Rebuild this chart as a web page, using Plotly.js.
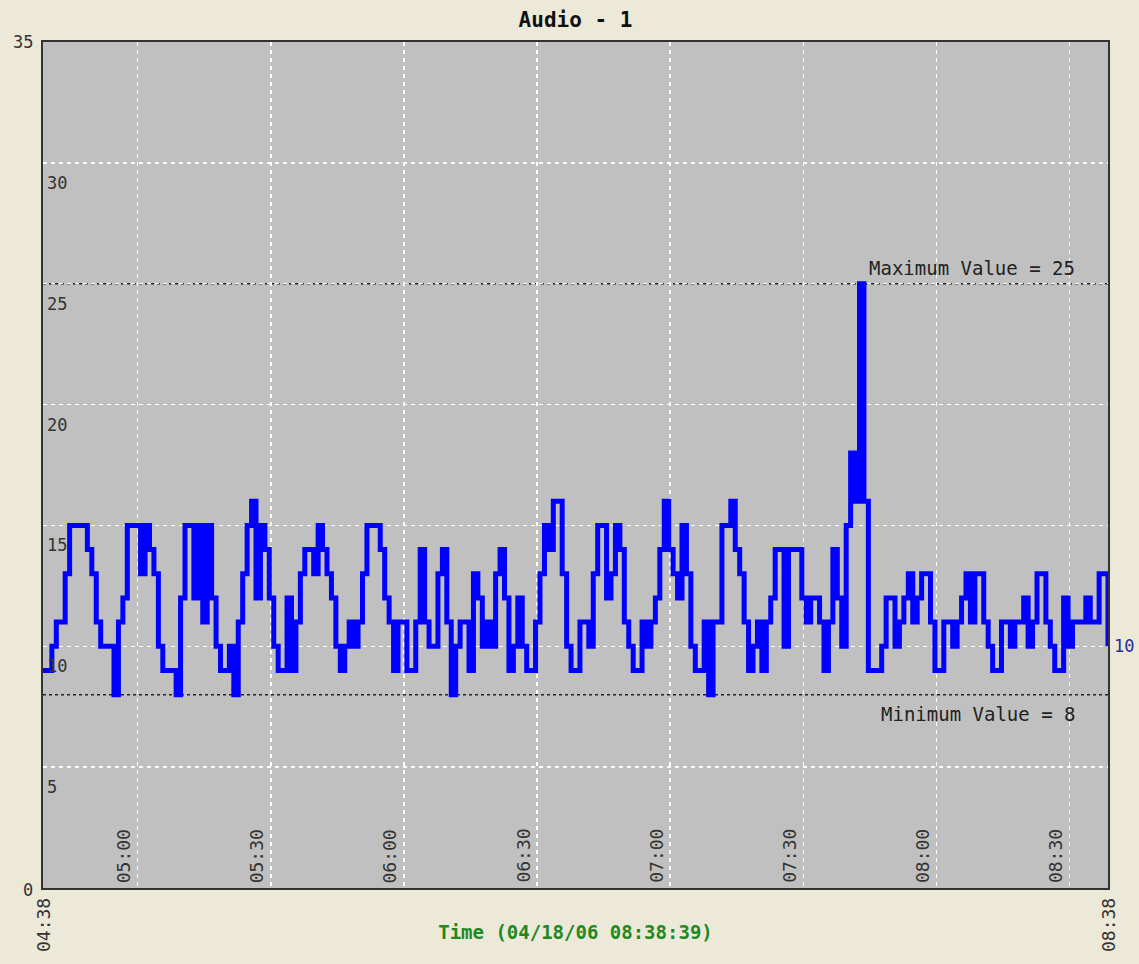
<!DOCTYPE html>
<html>
<head>
<meta charset="utf-8">
<script src="https://cdn.plot.ly/plotly-3.0.1.min.js"></script>
<style>html,body{margin:0;padding:0;background:#ECE9D8;}</style>
</head>
<body>
<div id="chart" style="width:1139px;height:964px;"></div>
<script>
// ---- data (one sample per minute, starting 04/18/06 04:38:39) ----
const chartTitle = 'Audio - 1';
const axisTitle = 'Time (04/18/06 08:38:39)';
const sampleDate = '2006-04-18';
const startClock = '04:38:39';
const sampleStepSeconds = 60;

const valuesHour1 = [9,9,10,11,11,13,15,15,15,15, 14,13,11,10,10,10,8,11,12,15, 15,15,13,15,14,13,10,9,9,9,
  8,12,15,15,12,15,11,15,12,10, 9,9,10,8,11,13,15,16,12,15, 14,12,10,9,9,12,9,11,13,14];
const valuesHour2 = [14,13,15,14,13,12,10,9,10,11, 10,11,13,15,15,15,14,12,11,9, 11,11,9,9,11,14,11,10,10,13,
  14,11,8,10,11,11,9,13,12,10, 11,10,13,14,12,9,10,12,10,9, 9,11,13,15,14,16,16,13,10,9];
const valuesHour3 = [9,11,11,10,13,15,15,12,13,15, 14,11,10,9,9,11,10,11,12,14, 16,14,13,12,15,13,10,9,9,11,
  8,11,11,15,15,16,14,13,11,9, 10,11,9,11,12,14,14,10,14,14, 14,12,11,12,12,11,9,11,14,12];
const valuesHour4 = [10,15,18,16,25,16,9,9,9,10, 12,12,10,11,12,13,11,12,13,13, 11,9,9,11,11,10,11,12,13,11,
  13,13,11,10,9,9,11,11,10,11, 11,12,10,11,13,13,11,10,9,9, 12,10,11,11,11,12,11,11,13,13, 10];

const xTickClocks = ['05:00','05:30','06:00','06:30','07:00','07:30','08:00','08:30'];
const yTickValues = [0,5,10,15,20,25,30,35];
const endLabels = ['04:38','08:38'];

// ---- build ----
const values = valuesHour1.concat(valuesHour2, valuesHour3, valuesHour4);
function pad(n){return (n<10?'0':'')+n;}
function clockToSec(c){const p=c.split(':').map(Number);return p[0]*3600+p[1]*60+(p[2]||0);}
function stamp(sec){const h=Math.floor(sec/3600),m=Math.floor((sec%3600)/60),s=sec%60;return sampleDate+' '+pad(h)+':'+pad(m)+':'+pad(s);}
const startSec = clockToSec(startClock);
const times = values.map((v,i)=>stamp(startSec + i*sampleStepSeconds));
const tickTimes = xTickClocks.map(c=>stamp(clockToSec(c)));
const maxVal = Math.max(...values), minVal = Math.min(...values);
const lastVal = values[values.length-1];
const t0 = times[0], tEnd = times[times.length-1];

const FONT = 'DejaVu Sans Mono';
const annotations = [];
// y labels inside the plot (below gridline)
yTickValues.forEach(v=>{
  if (v===0 || v===yTickValues[yTickValues.length-1]) {
    annotations.push({xref:'paper',yref:'y',x:0,y:v,text:String(v),showarrow:false,
      xanchor:'right',yanchor:'middle',xshift:-8,yshift:(v===0?-2:0),font:{family:FONT,size:17,color:'#333'}});
  } else {
    annotations.push({xref:'paper',yref:'y',x:0,y:v,text:String(v),showarrow:false,
      xanchor:'left',yanchor:'top',xshift:2,yshift:-8,font:{family:FONT,size:17,color:'#333'}});
  }
});
// x tick labels inside plot, rotated
xTickClocks.forEach((c,i)=>{
  annotations.push({xref:'x',yref:'y',x:tickTimes[i],y:0,text:c,showarrow:false,textangle:-90,
    xanchor:'right',yanchor:'bottom',xshift:-2,yshift:3,font:{family:FONT,size:18,color:'#333'}});
});
// end labels below axis
[t0,tEnd].forEach((t,i)=>{
  annotations.push({xref:'x',yref:'y',x:t,y:0,text:endLabels[i],showarrow:false,textangle:-90,
    xanchor:'center',yanchor:'top',yshift:-8,font:{family:FONT,size:18,color:'#333'}});
});
// max/min labels
annotations.push({xref:'paper',yref:'y',x:0.971,y:maxVal,text:'Maximum Value = '+maxVal,showarrow:false,
  xanchor:'right',yanchor:'bottom',yshift:3,font:{family:FONT,size:19,color:'#222'}});
annotations.push({xref:'paper',yref:'y',x:0.971,y:minVal,text:'Minimum Value = '+minVal,showarrow:false,
  xanchor:'right',yanchor:'top',yshift:-6,font:{family:FONT,size:19,color:'#222'}});
// current value at the right
annotations.push({xref:'x',yref:'y',x:tEnd,y:lastVal,text:String(lastVal),showarrow:false,
  xanchor:'left',yanchor:'middle',xshift:4,font:{family:FONT,size:17,color:'#2a2a99'}});

const shapes = [maxVal,minVal].map(v=>({type:'line',xref:'paper',yref:'y',x0:0,x1:1,y0:v,y1:v,
  line:{color:'#222',width:1.5,dash:'dot'},layer:'below'}));

const trace = {x:times,y:values,type:'scatter',mode:'lines',line:{color:'#0000ff',width:5,shape:'hv'},hoverinfo:'x+y'};

const layout = {
  width:1139,height:964,
  paper_bgcolor:'#ECE9D8',plot_bgcolor:'#C0C0C0',
  margin:{l:43,r:31,t:42,b:76,pad:0},
  showlegend:false,
  title:{text:'<b>'+chartTitle+'</b>',font:{family:FONT,size:21,color:'#111'},x:0.5,xref:'paper',y:1-20/964,yanchor:'middle'},
  xaxis:{type:'date',range:[t0,tEnd],tickvals:tickTimes,showticklabels:false,ticks:'',
    showgrid:true,gridcolor:'#ffffff',griddash:'4px,4px',gridwidth:1.5,
    showline:true,linecolor:'#333',linewidth:2,mirror:true,zeroline:false,
    title:{text:'<b>'+axisTitle+'</b>',font:{family:FONT,size:19,color:'#228822'},standoff:37}},
  yaxis:{range:[0,35],tickvals:yTickValues,showticklabels:false,ticks:'',
    showgrid:true,gridcolor:'#ffffff',griddash:'4px,4px',gridwidth:1.5,
    showline:true,linecolor:'#333',linewidth:2,mirror:true,zeroline:false},
  annotations:annotations,
  shapes:shapes
};
Plotly.newPlot('chart',[trace],layout,{displayModeBar:false,staticPlot:true});
</script>
</body>
</html>
